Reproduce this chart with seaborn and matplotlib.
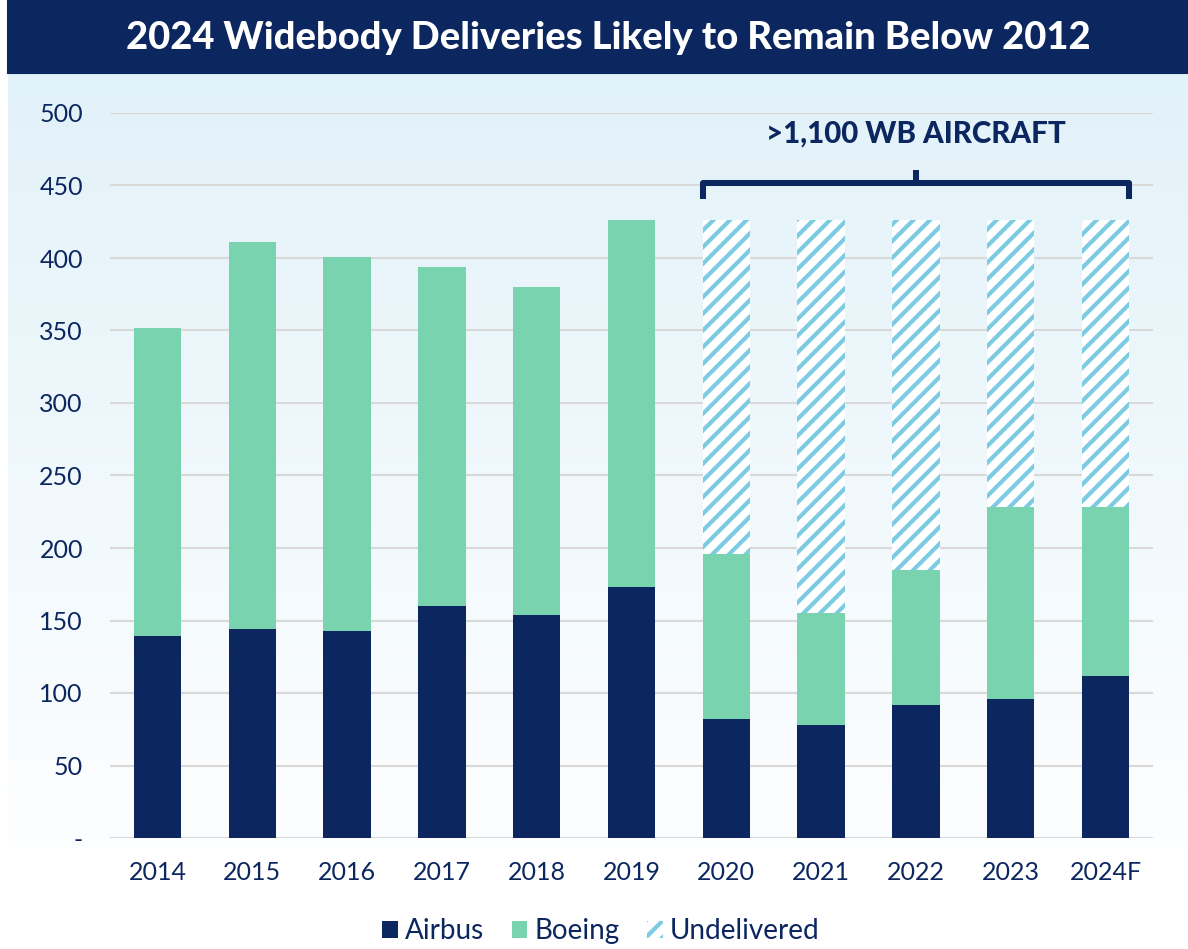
import numpy as np
import pandas as pd
import matplotlib
matplotlib.use("Agg")
import matplotlib.pyplot as plt
from matplotlib.patches import Rectangle, Patch
import seaborn as sns

# ---------------- data ----------------
years = ["2014", "2015", "2016", "2017", "2018", "2019",
         "2020", "2021", "2022", "2023", "2024F"]
airbus = [139, 144, 143, 160, 154, 173, 82, 78, 92, 96, 112]
boeing = [213, 267, 258, 234, 226, 253, 114, 77, 93, 132, 116]
undelivered_years = ["2020", "2021", "2022", "2023", "2024F"]
undelivered = [230, 271, 241, 198, 198]
yticks = [0, 50, 100, 150, 200, 250, 300, 350, 400, 450, 500]
ytick_labels = ["-", "50", "100", "150", "200", "250", "300", "350", "400", "450", "500"]
title = "2024 Widebody Deliveries Likely to Remain Below 2012"
annotation = ">1,100 WB AIRCRAFT"
legend_labels = ["Airbus", "Boeing", "Undelivered"]

NAVY = "#0C2760"
MINT = "#79D3AF"
HATCH = "#7CCBE3"
GRID = "#D9D9D9"

sns.set_theme(style="white")
plt.rcParams["font.family"] = ["Lato", "DejaVu Sans"]
plt.rcParams["hatch.linewidth"] = 2.0
plt.rcParams["hatch.color"] = HATCH

W, H, DPI = 1188, 949, 150
fig = plt.figure(figsize=(W / DPI, H / DPI), dpi=DPI)
fig.patch.set_facecolor("white")

# background gradient panel
bg_top, bg_bot, bg_left = 73, 848, 8
bg = fig.add_axes([bg_left / W, 1 - bg_bot / H, (W - bg_left) / W, (bg_bot - bg_top) / H])
grad = np.linspace(0, 1, 256)[:, None]
c_top = np.array([226, 242, 249]) / 255
c_bot = np.array([253, 254, 255]) / 255
img = c_top[None, None, :] * (1 - grad[:, :, None]) + c_bot[None, None, :] * grad[:, :, None]
bg.imshow(img, aspect="auto", extent=[0, 1, 0, 1])
bg.set_axis_off()

# title banner
fig.patches.append(Rectangle((bg_left / W, 1 - 73 / H), (W - bg_left) / W, 73 / H,
                             transform=fig.transFigure, color=NAVY, zorder=0))
fig.text(608 / W, 1 - 38 / H, title, color="white", fontsize=18.3, fontweight="black",
         ha="center", va="center")

# main axes
left, right, top, bottom = 110, 1153, 113, 838
ax = fig.add_axes([left / W, 1 - bottom / H, (right - left) / W, (bottom - top) / H])
ax.set_facecolor("none")

totals = [a + b for a, b in zip(airbus, boeing)]
df = pd.DataFrame({"year": years, "airbus": airbus, "total": totals})
und_total = [t + u for t, u in zip(
    [totals[years.index(y)] for y in undelivered_years], undelivered)]
dfu = pd.DataFrame({"year": undelivered_years, "top": und_total})

sns.barplot(data=dfu, x="year", y="top", order=years, ax=ax, color="white",
            width=0.5, edgecolor=HATCH, linewidth=0, hatch="///", saturation=1, zorder=2)
sns.barplot(data=df, x="year", y="total", order=years, ax=ax, color=MINT,
            width=0.5, linewidth=0, saturation=1, zorder=3)
sns.barplot(data=df, x="year", y="airbus", order=years, ax=ax, color=NAVY,
            width=0.5, linewidth=0, saturation=1, zorder=4)

ax.set_xlim(-0.5, len(years) - 0.5)
ax.set_ylim(0, 500)
ax.set_yticks(yticks)
ax.set_yticklabels(ytick_labels)
ax.set_xlabel("")
ax.set_ylabel("")
ax.grid(axis="y", color=GRID, linewidth=1.0)
ax.grid(axis="x", visible=False)
ax.set_axisbelow(True)
for s in ax.spines.values():
    s.set_visible(False)
ax.tick_params(axis="both", length=0, colors=NAVY, labelsize=12)
ax.tick_params(axis="y", pad=13)
ax.tick_params(axis="x", pad=11)

# bracket over the undelivered years
i0 = years.index(undelivered_years[0]) - 0.25
i1 = years.index(undelivered_years[-1]) + 0.25
ic = (i0 + i1) / 2
ax.plot([i0, i0, i1, i1], [441, 452, 452, 441], color=NAVY, lw=2.9,
        solid_joinstyle="round", solid_capstyle="butt", clip_on=False, zorder=5)
ax.plot([ic, ic], [452, 461], color=NAVY, lw=2.9, solid_capstyle="butt",
        clip_on=False, zorder=5)
ax.text(ic, 486, annotation, color=NAVY, fontsize=14.2, fontweight="black",
        ha="center", va="center")

# legend
handles = [Patch(facecolor=NAVY, edgecolor=NAVY, linewidth=0),
           Patch(facecolor=MINT, edgecolor=MINT, linewidth=0),
           Patch(facecolor="white", edgecolor=HATCH, linewidth=0, hatch="///")]
leg = fig.legend(handles, legend_labels, loc="center",
                 bbox_to_anchor=(601 / W, 1 - 931 / H),
                 ncol=3, frameon=False, fontsize=13.4, handlelength=0.55, handleheight=0.55,
                 handletextpad=0.25, columnspacing=1.0)
for t in leg.get_texts():
    t.set_color(NAVY)

fig.savefig("out.png", dpi=DPI, facecolor="white")
